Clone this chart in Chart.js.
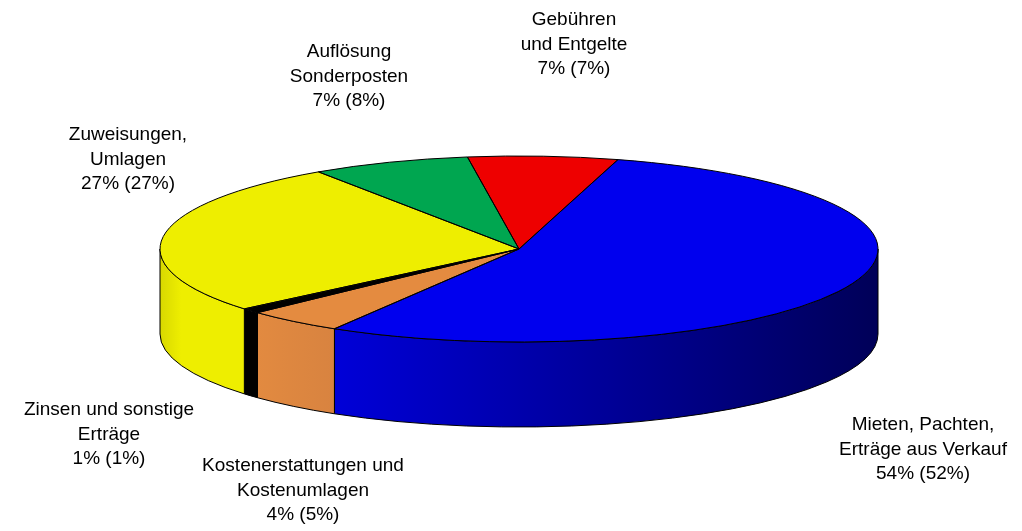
<!DOCTYPE html>
<html>
<head>
<meta charset="utf-8">
<style>
    html, body { margin: 0; padding: 0; background: #fff; }
    canvas { display: block; }
</style>
</head>
<body>
<canvas id="chart" width="1022" height="531"></canvas>
<script src="https://cdn.jsdelivr.net/npm/chart.js@4/dist/chart.umd.min.js"></script>
<script>
// clockwise from the blue slice
const sliceNames = [
    ["Mieten, Pachten,", "Erträge aus Verkauf"],
    ["Kostenerstattungen und", "Kostenumlagen"],
    ["Zinsen und sonstige", "Erträge"],
    ["Zuweisungen,", "Umlagen"],
    ["Auflösung", "Sonderposten"],
    ["Gebühren", "und Entgelte"],
];
const sliceValues = [54.15, 4.4, 0.87, 26.7, 7.14, 6.74];
const sharePercent = [54, 4, 1, 27, 7, 7];
const previousPercent = [52, 5, 1, 27, 8, 7];

const topColors = ["#0000ee", "#e48b40", "#000000", "#eeee00", "#00a650", "#ee0000"];
const wallLeftColors = ["#0000d8", "#e28a40", "#000000", "#d8d800", "#00a650", "#ee0000"];
const wallRightColors = ["#000058", "#d88340", "#000000", "#eeee00", "#00a650", "#ee0000"];

const labelCenters = [[923, 425], [303, 466], [109, 410], [128, 135], [349, 52], [574, 20]];

const pieX = 519;
const pieY = 249;
const pieRx = 359;
const pieRy = 93;
const pieDepth = 85;
const firstAngle = 16;

// the doughnut controller only does circles, so squash it into the ellipse
const flatPie = {
    id: "flatPie",
    beforeDatasetsDraw(chart) {
        const ctx = chart.ctx;
        const arcs = chart.getDatasetMeta(0).data;

        arcs.forEach((arc, i) => {
            const from = Math.max(arc.startAngle, 0);
            const to = Math.min(arc.endAngle, Math.PI);
            if (to <= from) return;

            const x0 = pieX + pieRx * Math.cos(to);
            const x1 = pieX + pieRx * Math.cos(from);
            const grad = ctx.createLinearGradient(x0, 0, x1, 0);
            grad.addColorStop(0, wallLeftColors[i]);
            if (i === 3) grad.addColorStop(0.25, wallRightColors[i]);
            grad.addColorStop(1, wallRightColors[i]);

            ctx.beginPath();
            ctx.ellipse(pieX, pieY, pieRx, pieRy, 0, from, to);
            ctx.ellipse(pieX, pieY + pieDepth, pieRx, pieRy, 0, to, from, true);
            ctx.closePath();
            ctx.fillStyle = grad;
            ctx.fill();
            ctx.strokeStyle = "#000";
            ctx.lineWidth = 1;
            ctx.stroke();
        });

        const first = arcs[0];
        ctx.save();
        ctx.translate(pieX, pieY);
        ctx.scale(pieRx / first.outerRadius, pieRy / first.outerRadius);
        ctx.translate(-first.x, -first.y);
    },
    afterDatasetsDraw(chart) {
        const ctx = chart.ctx;
        ctx.restore();

        chart.getDatasetMeta(0).data.forEach((arc) => {
            ctx.beginPath();
            ctx.moveTo(pieX, pieY);
            ctx.ellipse(pieX, pieY, pieRx, pieRy, 0, arc.startAngle, arc.endAngle);
            ctx.closePath();
            ctx.strokeStyle = "#000";
            ctx.lineWidth = 1;
            ctx.stroke();
        });
    },
    afterDraw(chart) {
        const ctx = chart.ctx;
        ctx.save();
        ctx.font = "19px 'Liberation Sans'";
        ctx.fillStyle = "#000";
        ctx.textAlign = "center";
        ctx.textBaseline = "middle";
        sliceNames.forEach((lines, i) => {
            const [x, y] = labelCenters[i];
            const all = [...lines, `${sharePercent[i]}% (${previousPercent[i]}%)`];
            all.forEach((line, j) => ctx.fillText(line, x, y + j * 24.3));
        });
        ctx.restore();
    },
};

new Chart(document.getElementById("chart").getContext("2d"), {
    type: "pie",
    data: {
        labels: sliceNames.map((lines) => lines.join(" ")),
        datasets: [{
            data: sliceValues,
            backgroundColor: topColors,
            borderWidth: 0,
        }],
    },
    options: {
        responsive: false,
        animation: false,
        rotation: firstAngle,
        layout: { padding: 0 },
        plugins: {
            legend: { display: false },
            tooltip: { enabled: false },
        },
    },
    plugins: [flatPie],
});
</script>
</body>
</html>
